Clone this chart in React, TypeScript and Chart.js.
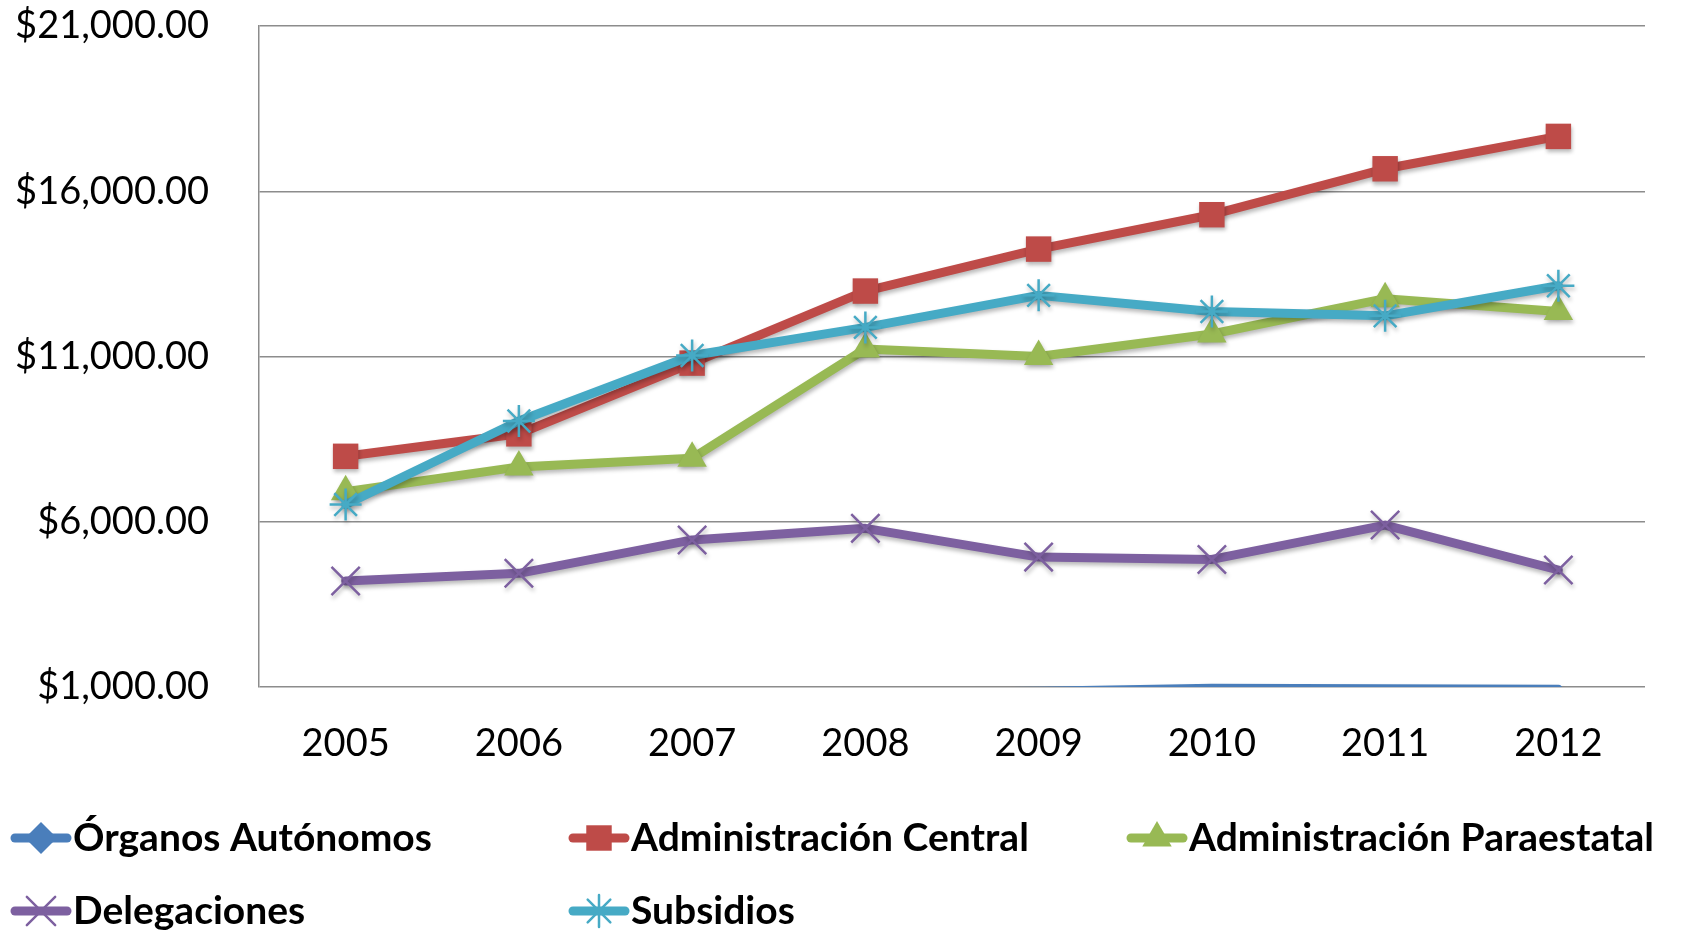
import React, { useEffect, useRef } from "react";
import { Chart, registerables } from "chart.js";
import { drawPoint } from "chart.js/helpers";

Chart.register(...registerables);

const years = ["2005", "2006", "2007", "2008", "2009", "2010", "2011", "2012"];
const organosAutonomos = [720, 760, 790, 830, 870, 960, 945, 930];
const adminCentral = [7980, 8660, 10800, 12980, 14250, 15290, 16680, 17660];
const adminParaestatal = [6910, 7660, 7920, 11230, 11000, 11680, 12750, 12360];
const delegaciones = [4210, 4440, 5450, 5800, 4930, 4860, 5900, 4540];
const subsidios = [6520, 9050, 11030, 11880, 12850, 12360, 12230, 13140];
const seriesNames = [
  "Órganos Autónomos",
  "Administración Central",
  "Administración Paraestatal",
  "Delegaciones",
  "Subsidios",
];
const yMin = 1000;
const yMax = 21000;
const yStep = 5000;

const FONT = "Lato, 'Open Sans', sans-serif";

const shadowPlugin = {
  id: "shadow",
  beforeDatasetsDraw(chart: any) {
    const ctx = chart.ctx;
    ctx.save();
    ctx.shadowColor = "rgba(0,0,0,0.28)";
    ctx.shadowBlur = 4;
    ctx.shadowOffsetX = 1;
    ctx.shadowOffsetY = 3;
  },
  afterDatasetsDraw(chart: any) {
    chart.ctx.restore();
  },
};

const gridLegend = {
  id: "gridLegend",
  afterDraw(chart: any) {
    const ctx = chart.ctx;
    const cols = [11, 569, 1127];
    const rows = [838, 911];
    chart.data.datasets.forEach((ds: any, i: number) => {
      const x = cols[i % 3];
      const y = rows[Math.floor(i / 3)];
      ctx.save();
      ctx.strokeStyle = ds.borderColor;
      ctx.lineWidth = 9;
      ctx.lineCap = "round";
      ctx.beginPath();
      ctx.moveTo(x + 4, y);
      ctx.lineTo(x + 56, y);
      ctx.stroke();
      ctx.fillStyle = ds.pointBackgroundColor;
      ctx.strokeStyle = ds.pointBorderColor;
      ctx.lineWidth = ds.pointBorderWidth;
      drawPoint(
        ctx,
        {
          pointStyle: ds.pointStyle,
          rotation: 0,
          radius: ds.legendRadius,
          borderWidth: ds.pointBorderWidth,
        },
        x + 30,
        y
      );
      ctx.fillStyle = "#000";
      ctx.font = `bold 39px ${FONT}`;
      ctx.textBaseline = "middle";
      ctx.textAlign = "left";
      ctx.fillText(seriesNames[i], x + 62, y);
      ctx.restore();
    });
  },
};

export default function App() {
  const ref = useRef<HTMLCanvasElement>(null);
  useEffect(() => {
    document.body.style.margin = "0";
    const colors = ["#4A7EBB", "#BE4B48", "#98B954", "#7D60A0", "#46AAC5"];
    const values = [organosAutonomos, adminCentral, adminParaestatal, delegaciones, subsidios];
    const styles = ["rectRot", "rect", "triangle", "crossRot", "star"];
    const radii = [16, 18, 17, 20, 16];
    const n = values.length;
    const datasets = values.map((v, i) => {
      const cross = styles[i] === "crossRot" || styles[i] === "star";
      return {
        label: seriesNames[i],
        data: v,
        borderColor: colors[i],
        backgroundColor: colors[i],
        borderWidth: 9,
        borderJoinStyle: "round",
        borderCapStyle: "round",
        pointStyle: styles[i],
        pointRadius: (c: any) => (c.raw < yMin ? 0 : radii[i]),
        legendRadius: radii[i],
        pointBackgroundColor: colors[i],
        pointBorderColor: colors[i],
        pointBorderWidth: cross ? 2.5 : 0,
        tension: 0,
        clip: 0,
        order: n - 1 - i,
      };
    });
    const chart = new Chart(ref.current!, {
      type: "line",
      data: { labels: years, datasets: datasets as any },
      plugins: [shadowPlugin, gridLegend],
      options: {
        responsive: false,
        animation: false,
        layout: { padding: { top: 26, right: 38, bottom: 160, left: 0 } },
        plugins: { legend: { display: false }, tooltip: { enabled: false } },
        scales: {
          x: {
            offset: true,
            grid: { display: false, drawTicks: false },
            border: { display: false },
            ticks: { color: "#000", font: { family: FONT, size: 38 }, padding: 34 },
            afterFit: (s: any) => {
              s.height = 85;
              s.paddingLeft = 0;
              s.paddingRight = 0;
            },
          },
          y: {
            min: yMin,
            max: yMax,
            ticks: {
              stepSize: yStep,
              color: "#000",
              font: { family: FONT, size: 38 },
              padding: 50,
              callback: (v: any) =>
                "$" + Number(v).toLocaleString("en-US", { minimumFractionDigits: 2, maximumFractionDigits: 2 }),
            },
            grid: { color: "#8c8c8c", lineWidth: 1.5, drawTicks: false },
            border: { display: true, color: "#8c8c8c", width: 1.5 },
            afterFit: (s: any) => {
              s.width = 259;
              s.paddingTop = 0;
              s.paddingBottom = 0;
            },
          },
        },
      },
    });
    return () => chart.destroy();
  }, []);
  return <canvas ref={ref} width={1683} height={932} style={{ display: "block" }} />;
}
